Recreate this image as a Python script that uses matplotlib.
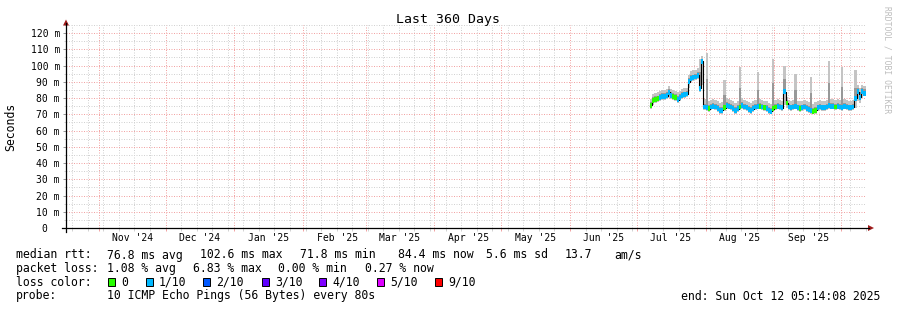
import datetime as dt
import numpy as np
import matplotlib
matplotlib.use('Agg')
import matplotlib.pyplot as plt
import matplotlib.dates as mdates
import matplotlib.ticker as mticker
import matplotlib.transforms as mtransforms
from matplotlib.lines import Line2D
from matplotlib.patches import Polygon, Rectangle

# canvas layout in pixels (rrdtool style, origin top-left)
W, H = 897, 310
PLOT_L, PLOT_R, PLOT_T, PLOT_B = 66, 866, 25, 228

START = dt.datetime(2024, 10, 17, 5, 14, 8)
END = dt.datetime(2025, 10, 12, 5, 14, 8)
FIRST_SAMPLE = dt.datetime(2025, 7, 7)

# ---- data: one value per day from Jul 7 2025, in ms ----
median_ms = [
    75.5, 78.5, 79.0, 79.5, 80.5, 81.0, 81.0, 81.5, 83.5, 81.5,
    81.0, 80.5, 79.0, 80.5, 81.5, 82.0, 82.5, 90.0, 92.0, 92.5,
    93.0, 94.0, 86.0, 102.6, 74.5, 74.0, 73.5, 74.5, 75.0, 74.5,
    73.5, 72.5, 72.5, 74.0, 75.5, 75.0, 74.5, 73.5, 72.5, 73.5,
    74.5, 75.5, 74.5, 74.0, 73.0, 72.5, 73.5, 74.5, 75.0, 75.0,
    74.5, 74.0, 73.5, 72.5, 71.8, 73.5, 74.5, 75.0, 74.5, 74.0,
    84.0, 77.0, 74.5, 74.0, 74.5, 75.0, 74.0, 73.5, 74.0, 74.5,
    73.5, 73.0, 72.5, 71.8, 72.5, 74.0, 74.5, 74.0, 74.0, 74.5,
    75.5, 75.0, 75.0, 74.5, 75.0, 74.5, 74.0, 75.0, 74.5, 74.0,
    74.0, 74.5, 80.0, 84.0, 80.5, 84.0, 83.0, 84.4,
]
smoke_hi_ms = [
    79.5, 82.5, 83.0, 83.5, 84.5, 85.0, 85.0, 85.5, 87.5, 85.5,
    85.0, 84.5, 83.5, 84.5, 85.5, 86.0, 86.5, 94.5, 96.5, 97.0,
    97.5, 98.5, 104.0, 106.0, 79.5, 108.0, 78.5, 79.0, 79.5, 79.0,
    78.0, 77.0, 77.5, 91.0, 80.0, 79.5, 79.0, 78.0, 77.0, 78.0,
    99.0, 80.0, 79.0, 78.5, 77.5, 77.0, 78.0, 79.0, 96.0, 79.5,
    79.0, 78.5, 78.0, 77.0, 76.5, 104.0, 79.0, 79.5, 79.0, 78.5,
    100.0, 80.5, 79.0, 78.5, 79.0, 95.0, 78.5, 78.0, 78.5, 79.0,
    78.0, 77.5, 93.0, 76.5, 77.5, 78.5, 79.0, 78.5, 78.5, 79.0,
    103.0, 79.5, 79.5, 79.0, 79.5, 79.0, 99.0, 79.5, 79.0, 78.5,
    78.5, 79.0, 97.0, 88.0, 86.5, 88.0, 87.5, 88.0,
]
smoke_mid_ms = [
    77.5, 80.5, 81.0, 81.5, 82.5, 83.0, 83.0, 83.5, 85.5, 83.5,
    83.0, 82.5, 81.0, 82.5, 83.5, 84.0, 84.5, 92.5, 94.0, 94.5,
    95.0, 96.0, 96.0, 104.0, 76.5, 92.0, 75.5, 76.5, 77.0, 76.5,
    75.5, 74.5, 74.5, 82.0, 77.5, 77.0, 76.5, 75.5, 74.5, 75.5,
    86.0, 77.5, 76.5, 76.0, 75.0, 74.5, 75.5, 76.5, 85.0, 77.0,
    76.5, 76.0, 75.5, 74.5, 74.0, 89.0, 76.5, 77.0, 76.5, 76.0,
    92.0, 79.0, 76.5, 76.0, 76.5, 85.0, 76.0, 75.5, 76.0, 76.5,
    75.5, 75.0, 83.0, 74.0, 74.5, 76.0, 76.5, 76.0, 76.0, 76.5,
    89.0, 77.0, 77.0, 76.5, 77.0, 76.5, 87.0, 77.0, 76.5, 76.0,
    76.0, 76.5, 86.0, 86.0, 83.5, 86.0, 85.5, 86.5,
]
smoke_lo_ms = [
    73.5, 76.0, 77.0, 77.5, 78.5, 79.0, 79.0, 79.5, 80.0, 79.5,
    79.0, 78.5, 77.0, 78.5, 79.5, 80.0, 80.5, 86.0, 90.0, 90.5,
    91.0, 92.0, 84.0, 88.0, 72.5, 72.0, 71.5, 72.5, 73.0, 72.5,
    71.5, 70.5, 70.5, 72.0, 73.5, 73.0, 72.5, 71.5, 70.5, 71.5,
    72.5, 73.5, 72.5, 72.0, 71.0, 70.5, 71.5, 72.5, 73.0, 73.0,
    72.5, 72.0, 71.5, 70.5, 70.0, 71.5, 72.5, 73.0, 72.5, 72.0,
    76.0, 74.0, 72.5, 72.0, 72.5, 73.0, 72.0, 71.5, 72.0, 72.5,
    71.5, 71.0, 70.5, 70.0, 70.5, 72.0, 72.5, 72.0, 72.0, 72.5,
    73.5, 73.0, 73.0, 72.5, 73.0, 72.5, 72.0, 73.0, 72.5, 72.0,
    72.0, 72.5, 74.0, 78.0, 77.0, 80.0, 81.0, 82.0,
]
# index into loss_colors for each day
loss_level = [
    0, 0, 0, 0, 1, 1, 1, 1, 1, 1,
    0, 0, 1, 1, 1, 1, 1, 1, 1, 1,
    1, 1, 1, 1, 1, 1, 0, 1, 1, 1,
    1, 1, 1, 0, 1, 1, 1, 1, 1, 1,
    0, 1, 1, 1, 1, 1, 1, 1, 1, 0,
    1, 0, 1, 1, 1, 0, 0, 1, 1, 1,
    1, 0, 1, 1, 1, 1, 1, 0, 1, 1,
    1, 1, 1, 0, 0, 1, 1, 1, 1, 1,
    1, 1, 1, 0, 1, 1, 1, 1, 1, 1,
    1, 1, 1, 1, 1, 1, 1, 1,
]
loss_labels = ['0', '1/10', '2/10', '3/10', '4/10', '5/10', '9/10']
loss_colors = ['#26ff00', '#00b8ff', '#0059ff', '#5e00ff', '#7e00ff', '#dd00ff', '#ff0000']
month_labels = ["Nov '24", "Dec '24", "Jan '25", "Feb '25", "Mar '25", "Apr '25",
                "May '25", "Jun '25", "Jul '25", "Aug '25", "Sep '25"]

rtt_row = [(16, 'median rtt:'), (107, '76.8 ms avg'), (200, '102.6 ms max'),
           (300, '71.8 ms min'), (398, '84.4 ms now'), (486, '5.6 ms sd'),
           (565, '13.7'), (614, 'am/s')]
loss_row = [(16, 'packet loss:'), (107, '1.08 % avg'), (193, '6.83 % max'),
            (278, '0.00 % min'), (365, '0.27 % now')]
loss_box_x = [108, 146, 203, 262, 319, 377, 435]

SMOKE_LIGHT = '#c4c4c4'
SMOKE_DARK = '#989898'
GRID_MINOR = '#d2d2d2'
GRID_MAJOR = '#f2a4a4'
ARROW = '#a01c1c'
MONO = 'DejaVu Sans Mono'
BAND_MS = 3.0  # height of the loss-coloured band around the median


def fx(x):
    return x / W


def fy(y):
    return 1 - y / H


plt.rcParams['font.family'] = MONO
fig = plt.figure(figsize=(W / 100, H / 100), dpi=100)
ax = fig.add_axes([fx(PLOT_L), fy(PLOT_B), (PLOT_R - PLOT_L) / W, (PLOT_B - PLOT_T) / H])

# smoke, median line and loss-coloured band
days = [FIRST_SAMPLE + dt.timedelta(days=i) for i in range(len(median_ms))]
x = mdates.date2num(days)
edges = np.append(x, mdates.date2num(END))


def ext(a):
    return np.append(a, a[-1])


ax.fill_between(edges, ext(smoke_lo_ms), ext(smoke_hi_ms), step='post', color=SMOKE_LIGHT, lw=0, zorder=2)
ax.fill_between(edges, ext(median_ms), ext(smoke_mid_ms), step='post', color=SMOKE_DARK, lw=0, zorder=2)
ax.step(edges, ext(median_ms), where='post', color='black', lw=0.8, zorder=3)
ax.bar(x, BAND_MS, bottom=np.array(median_ms) - BAND_MS / 2, width=1.0, align='edge',
       color=[loss_colors[i] for i in loss_level], lw=0, zorder=4)

ax.set_xlim(mdates.date2num(START), mdates.date2num(END))
ax.set_ylim(0, 125)

# grid
ax.xaxis.set_major_locator(mdates.MonthLocator())
ax.xaxis.set_minor_locator(mdates.WeekdayLocator(byweekday=mdates.SU))
ax.xaxis.set_major_formatter(mticker.NullFormatter())
ax.yaxis.set_major_locator(mticker.MultipleLocator(10))
ax.yaxis.set_minor_locator(mticker.MultipleLocator(5))
ax.yaxis.set_major_formatter(mticker.FuncFormatter(lambda v, p: f'{int(v)} m' if v else '0  '))
ax.grid(which='minor', color=GRID_MINOR, lw=0.72, ls=(0, (1, 1.5)), zorder=0)
ax.grid(which='major', color=GRID_MAJOR, lw=0.72, ls=(0, (1, 1.5)), zorder=0)
ax.set_axisbelow(True)
ax.tick_params(axis='x', which='major', length=2.5, width=0.72, color=GRID_MAJOR)
ax.tick_params(axis='x', which='minor', length=2, width=0.72, color=GRID_MINOR)
ax.tick_params(axis='y', which='major', length=2.2, width=0.72, color='#999999',
               labelsize=7, pad=2.2)
ax.tick_params(axis='y', which='minor', length=1.5, width=0.72, color=GRID_MINOR)
for s in ax.spines.values():
    s.set_visible(False)

# month labels sit in the middle of each month
label_tf = mtransforms.blended_transform_factory(ax.transData, fig.transFigure)
for i, lab in enumerate(month_labels):
    y, m = 2024 + (10 + i) // 12, (10 + i) % 12 + 1
    mid = dt.datetime(y, m, 1) + dt.timedelta(days=15.3)
    ax.text(mdates.date2num(mid), fy(238), lab, transform=label_tf,
            ha='center', va='center', fontsize=7)

# axis lines with arrows
fig.add_artist(Line2D([fx(62), fx(869)], [fy(PLOT_B), fy(PLOT_B)], color='black', lw=0.9))
fig.add_artist(Line2D([fx(PLOT_L), fx(PLOT_L)], [fy(232), fy(23)], color='black', lw=0.9))
fig.add_artist(Polygon([(fx(63), fy(25.5)), (fx(69), fy(25.5)), (fx(66), fy(19.5))],
                       closed=True, color=ARROW, lw=0))
fig.add_artist(Polygon([(fx(868), fy(225)), (fx(868), fy(231)), (fx(874), fy(228))],
                       closed=True, color=ARROW, lw=0))

# titles
fig.text(fx(448), fy(19.5), 'Last 360 Days', ha='center', va='center', fontsize=9.5)
fig.text(fx(11), fy(127), 'Seconds', rotation=90, ha='center', va='center', fontsize=8.3)
fig.text(fx(887), fy(60), 'RRDTOOL / TOBI OETIKER', rotation=270, ha='center', va='center',
         fontsize=5.8, color='#bdbdbd')

# legend rows
for xp, s in rtt_row:
    fig.text(fx(xp), fy(255), s, ha='left', va='center', fontsize=8.3)
for xp, s in loss_row:
    fig.text(fx(xp), fy(268.5), s, ha='left', va='center', fontsize=8.3)
fig.text(fx(16), fy(282), 'loss color:', ha='left', va='center', fontsize=8.3)
for xp, lab, col in zip(loss_box_x, loss_labels, loss_colors):
    fig.add_artist(Rectangle((fx(xp), fy(286)), 7 / W, 8.5 / H, facecolor=col,
                             edgecolor='black', lw=0.7))
    fig.text(fx(xp + 13), fy(282), lab, ha='left', va='center', fontsize=8.3)
fig.text(fx(16), fy(296), 'probe:', ha='left', va='center', fontsize=8.3)
fig.text(fx(107), fy(296), '10 ICMP Echo Pings (56 Bytes) every 80s', ha='left', va='center', fontsize=8.3)
fig.text(fx(880), fy(296), 'end: Sun Oct 12 05:14:08 2025', ha='right', va='center', fontsize=8.3)

fig.savefig('out.png', dpi=100, facecolor='white')
